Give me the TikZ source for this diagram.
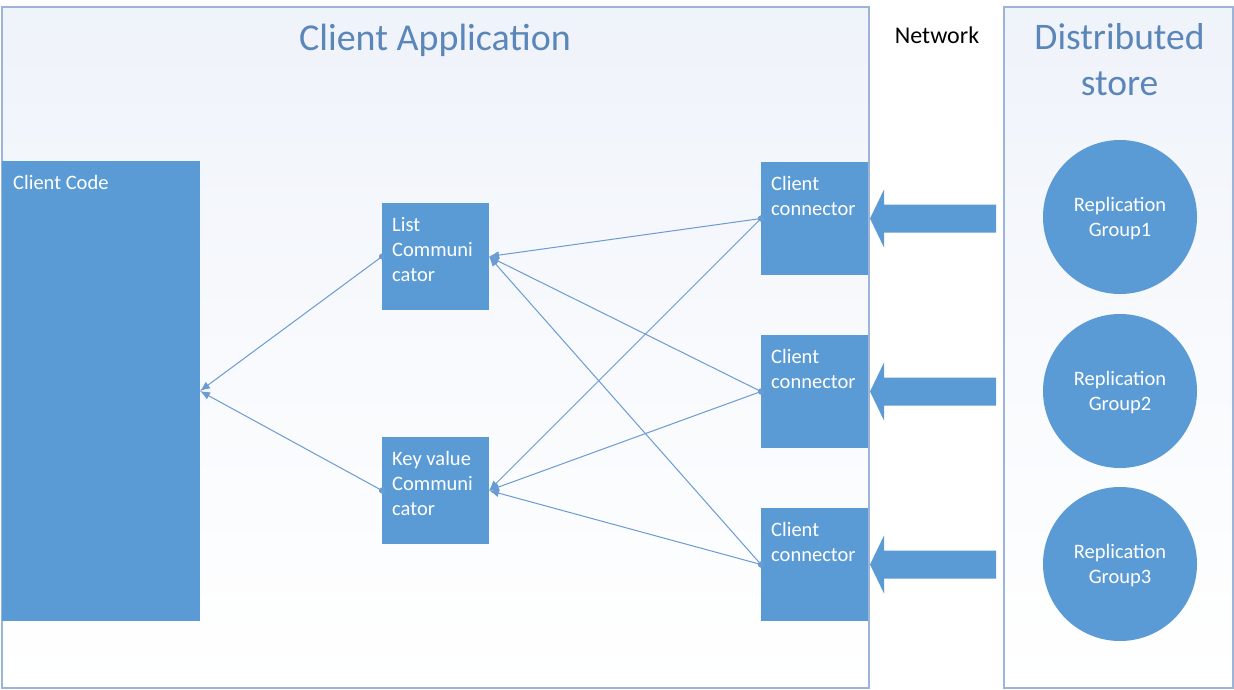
\documentclass[tikz,border=0pt]{standalone}
\usepackage{fontspec}
\setmainfont{Carlito}
\usetikzlibrary{arrows.meta}
\definecolor{boxblue}{HTML}{5B9BD5}
\definecolor{titleblue}{HTML}{5A86BA}
\definecolor{framecol}{HTML}{9CB4D6}
\definecolor{linecol}{HTML}{6A9BD3}
\definecolor{shadetop}{HTML}{EFF3FA}
\begin{document}
\begin{tikzpicture}[x=1pt,y=-1pt,
  frame/.style={draw=framecol, line width=1.5pt, top color=shadetop, bottom color=white, middle color=white!55!shadetop, inner sep=0pt, outer sep=0pt, anchor=north west},
  box/.style={fill=boxblue, inner sep=0pt, outer sep=0pt, anchor=north west},
  boxtext/.style={text=white, font=\fontsize{20.5}{25}\selectfont, align=left, inner sep=0pt, anchor=base west},
  circ/.style={circle, fill=boxblue, minimum size=154pt, inner sep=0pt, text=white, font=\fontsize{20.5}{24.5}\selectfont, align=center, text depth=0pt},
  conn/.style={draw=linecol, line width=1pt, {Circle[length=6pt]}-{Latex[length=10pt,width=8pt]}, shorten <=-3pt},
  blockarrow/.style={fill=boxblue},
  bigtitle/.style={text=titleblue, inner sep=0pt, align=center}
]
\useasboundingbox (0,0) rectangle (1234,689);
\fill[white] (0,0) rectangle (1234,689);
% frames
\node[frame, minimum width=867pt, minimum height=681pt] (app) at (2,7) {};
\node[frame, minimum width=229pt, minimum height=681pt] (store) at (1004,7) {};
% titles
\node[bigtitle, anchor=base, font=\fontsize{38}{40}\selectfont] (apptitle) at (435,50) {Client Application};
\node[bigtitle, anchor=base, font=\fontsize{37.5}{46}\selectfont] (storetitle) at (1119.5,95) {Distributed\\store};
\node[anchor=base, inner sep=0pt, font=\fontsize{24}{28}\selectfont] (net) at (937,43) {Network};
% boxes
\node[box, minimum width=198pt, minimum height=460pt] (code) at (2,161) {};
\node[box, minimum width=107pt, minimum height=107pt] (list) at (382,203) {};
\node[box, minimum width=107pt, minimum height=107pt] (kv) at (382,437) {};
\node[box, minimum width=107pt, minimum height=113pt] (cc1) at (761,162) {};
\node[box, minimum width=107pt, minimum height=113pt] (cc2) at (761,335) {};
\node[box, minimum width=107pt, minimum height=113pt] (cc3) at (761,508) {};
% box texts (anchored at the baseline of the last line)
\node[boxtext] (codet) at ([xshift=11pt,yshift=-28pt]code.north west) {Client Code};
\node[boxtext] (listt) at ([xshift=10pt,yshift=-78pt]list.north west) {List\\Communi\\cator};
\node[boxtext] (kvt) at ([xshift=10pt,yshift=-78pt]kv.north west) {Key value\\Communi\\cator};
\node[boxtext] (cc1t) at ([xshift=10pt,yshift=-53pt]cc1.north west) {Client\\connector};
\node[boxtext] (cc2t) at ([xshift=10pt,yshift=-53pt]cc2.north west) {Client\\connector};
\node[boxtext] (cc3t) at ([xshift=10pt,yshift=-53pt]cc3.north west) {Client\\connector};
% replication groups
\node[circ] (rg1) at (1120,217) {Replication\\Group1};
\node[circ] (rg2) at (1120,391) {Replication\\Group2};
\node[circ] (rg3) at (1120,564) {Replication\\Group3};
% block arrows
\foreach \c in {1,2,3}{
  \fill[blockarrow] ([xshift=2pt]cc\c.east) -- ++(14,-29) -- ++(0,15) -- ++(112,0) -- ++(0,28) -- ++(-112,0) -- ++(0,15) -- cycle;
}
% connectors
\draw[conn] (cc1.west) -- (list.east);
\draw[conn] (cc1.west) -- (kv.east);
\draw[conn] (cc2.west) -- (list.east);
\draw[conn] (cc2.west) -- (kv.east);
\draw[conn] (cc3.west) -- (list.east);
\draw[conn] (cc3.west) -- (kv.east);
\draw[conn] (list.west) -- (code.east);
\draw[conn] (kv.west) -- (code.east);
\end{tikzpicture}
\end{document}
